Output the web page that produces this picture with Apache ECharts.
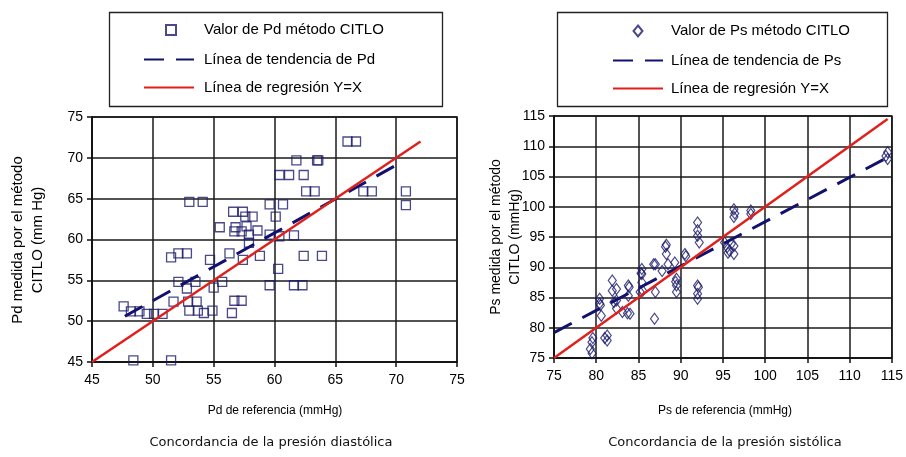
<!DOCTYPE html>
<html>
<head>
<meta charset="utf-8">
<script src="https://cdn.jsdelivr.net/npm/echarts@6/dist/echarts.min.js"></script>
<style>
html,body{margin:0;padding:0;background:#fff;}
#c{width:906px;height:457px;}
</style>
</head>
<body>
<div id="c"></div>
<script>
// ---- Left chart: diastolic pressure ----
const pdTicks = [45, 50, 55, 60, 65, 70, 75];
const pdRef = [66.0,66.7,61.8,63.5,63.6,60.4,61.2,62.4,62.6,63.3,67.3,68.0,70.8,70.8,53.0,54.1,59.6,60.7,56.6,57.4,58.2,57.6,60.1,55.5,56.8,57.7,56.7,57.3,58.6,57.9,59.6,60.4,61.6,57.9,56.3,57.4,58.8,62.4,63.9,51.5,52.1,52.8,54.7,60.3,52.1,53.5,55.7,52.8,55.0,59.6,61.6,62.3,51.7,52.9,53.6,56.7,57.3,53.0,53.7,54.2,54.9,56.5,47.6,48.2,48.9,49.5,50.1,50.8,48.4,51.5];
const pdCitlo = [72.0,72.0,69.7,69.7,69.7,67.9,67.9,67.9,65.9,65.9,65.9,65.9,65.9,64.2,64.6,64.6,64.3,64.3,63.4,63.4,62.8,62.8,62.8,61.5,61.5,61.6,61.0,61.0,61.1,60.6,60.6,60.4,60.5,59.6,58.3,57.5,58.0,58.0,58.0,57.8,58.3,58.3,57.5,56.4,54.8,54.8,54.8,54.0,54.1,54.4,54.4,54.4,52.4,52.4,52.4,52.5,52.5,51.3,51.3,51.0,51.3,51.0,51.8,51.2,51.2,50.9,50.9,50.9,45.2,45.2];
const pdTrendX = [47.7, 70.0];
const pdTrendY = [50.6, 69.1];
const pdLineX = [45, 72];
const pdLineY = [45, 72];

// ---- Right chart: systolic pressure ----
const psTicks = [75, 80, 85, 90, 95, 100, 105, 110, 115];
const psRef = [79.5,79.3,79.5,79.6,81.3,81.3,81.0,80.4,80.4,80.5,80.6,81.9,81.9,82.1,82.4,82.4,82.4,83.1,83.7,84.0,83.8,83.8,83.9,85.4,85.4,85.4,85.5,85.3,85.2,87.0,86.9,86.8,87.0,87.8,88.5,88.3,88.3,88.2,89.3,89.4,89.5,89.5,89.5,90.5,90.6,92.0,92.0,92.0,92.2,92.0,92.0,92.0,92.1,95.2,95.5,95.8,96.3,96.3,95.6,96.0,96.3,96.3,96.4,98.3,98.3,114.5,114.5,114.3];
const psCitlo = [77.6,76.5,75.8,78.3,78.7,77.9,78.3,84.8,84.0,83.7,82.0,87.8,86.1,84.2,86.4,84.5,83.2,82.6,82.4,82.3,87.0,85.3,86.7,89.7,88.9,87.5,86.1,89.0,85.9,85.9,81.5,90.5,90.5,89.4,90.5,93.7,92.2,93.4,90.8,87.6,88.1,87.0,85.9,92.2,91.8,97.4,96.1,95.2,94.1,87.0,85.6,84.8,86.7,94.1,93.3,92.7,93.5,92.2,92.4,93.9,99.6,98.3,98.9,99.4,98.8,109.0,107.9,108.4];
const psTrendX = [75, 114.7];
const psTrendY = [79.2, 108.3];
const psLineX = [75, 114.5];
const psLineY = [75, 114.5];

const legendLeft = ['Valor de Pd método CITLO', 'Línea de tendencia de Pd', 'Línea de regresión Y=X'];
const legendRight = ['Valor de Ps método CITLO', 'Línea de tendencia de Ps', 'Línea de regresión Y=X'];

const NAVY = '#1b1b6b';
const TREND = '#12126e';
const RED = '#e0201c';
const FONT = '"Liberation Sans", Arial, sans-serif';

function pairs(xs, ys){ return xs.map((x,i)=>[x, ys[i]]); }

function valueAxis(ticks, gridIndex, isX){
  return {
    type: 'value', gridIndex: gridIndex,
    min: ticks[0], max: ticks[ticks.length-1], interval: ticks[1]-ticks[0],
    axisLine: {show: true, lineStyle: {color: '#111', width: 1.5}},
    axisTick: {show: true, length: 5, lineStyle: {color: '#111', width: 1.5}},
    axisLabel: {color: '#000', fontSize: 14, fontFamily: FONT, margin: isX ? 11 : 9},
    splitLine: {show: true, lineStyle: {color: '#1a1a1a', width: 1.5}}
  };
}

const chart = echarts.init(document.getElementById('c'), null, {renderer: 'canvas'});
const legendText = {fontSize: 15, fontFamily: FONT, color: '#000'};
const noSymbol = {color: 'rgba(0,0,0,0)', borderWidth: 0, opacity: 0};
chart.setOption({
  animation: false,
  backgroundColor: '#fff',
  grid: [
    {left: 92, top: 117, width: 365, height: 245, show: true, borderColor: '#111', borderWidth: 1.5},
    {left: 554, top: 116, width: 342, height: 242, show: true, borderColor: '#111', borderWidth: 1.5}
  ],
  xAxis: [valueAxis(pdTicks, 0, true), valueAxis(psTicks, 1, true)],
  yAxis: [valueAxis(pdTicks, 0, false), valueAxis(psTicks, 1, false)],
  legend: [
    {orient: 'vertical', padding: 0, left: 165, top: 22.5, itemWidth: 10, itemHeight: 10, selectedMode: false,
     textStyle: Object.assign({padding: [0,0,0,23]}, legendText), data: [legendLeft[0]]},
    {orient: 'vertical', padding: 0, left: 143, top: 52, itemWidth: 50, itemHeight: 10, itemGap: 13, selectedMode: false,
     textStyle: Object.assign({padding: [0,0,0,5]}, legendText),
     data: [{name: legendLeft[1], itemStyle: noSymbol}, {name: legendLeft[2], itemStyle: noSymbol}]},
    {orient: 'vertical', padding: 0, left: 632.5, top: 23.5, itemWidth: 9, itemHeight: 11, selectedMode: false,
     textStyle: Object.assign({padding: [0,0,0,23.5]}, legendText), data: [legendRight[0]]},
    {orient: 'vertical', padding: 0, left: 612, top: 53, itemWidth: 50, itemHeight: 10, itemGap: 13, selectedMode: false,
     textStyle: Object.assign({padding: [0,0,0,3]}, legendText),
     data: [{name: legendRight[1], itemStyle: noSymbol}, {name: legendRight[2], itemStyle: noSymbol}]}
  ],
  graphic: [
    {type: 'rect', shape: {x: 109.5, y: 12.5, width: 333, height: 94}, style: {fill: 'none', stroke: '#222', lineWidth: 1.3}, silent: true, z: -1},
    {type: 'rect', shape: {x: 557.5, y: 12.5, width: 330, height: 94}, style: {fill: 'none', stroke: '#222', lineWidth: 1.3}, silent: true, z: -1},
    {type: 'text', x: 28, y: 240, rotation: Math.PI/2, style: {text: 'Pd medida por el método\nCITLO (mm Hg)', align: 'center', verticalAlign: 'middle', fontSize: 15, lineHeight: 20, fontFamily: FONT, fill: '#000'}},
    {type: 'text', x: 506, y: 237, rotation: Math.PI/2, style: {text: 'Ps medida por el método\nCITLO (mmHg)', align: 'center', verticalAlign: 'middle', fontSize: 14, lineHeight: 19, fontFamily: FONT, fill: '#000'}},
    {type: 'text', x: 275, y: 411, style: {text: 'Pd de referencia (mmHg)', align: 'center', verticalAlign: 'middle', fontSize: 12, fontFamily: FONT, fill: '#000'}},
    {type: 'text', x: 725, y: 411, style: {text: 'Ps de referencia (mmHg)', align: 'center', verticalAlign: 'middle', fontSize: 12, fontFamily: FONT, fill: '#000'}},
    {type: 'text', x: 271, y: 443, style: {text: 'Concordancia de la presión diastólica', align: 'center', verticalAlign: 'middle', fontSize: 13, fontFamily: '"DejaVu Sans", sans-serif', fill: '#111'}},
    {type: 'text', x: 725, y: 443, style: {text: 'Concordancia de la presión sistólica', align: 'center', verticalAlign: 'middle', fontSize: 13, fontFamily: '"DejaVu Sans", sans-serif', fill: '#111'}}
  ],
  series: [
    {name: legendLeft[0], type: 'scatter', xAxisIndex: 0, yAxisIndex: 0, symbol: 'rect', symbolSize: 9,
     itemStyle: {color: 'rgba(0,0,0,0)', borderColor: NAVY, borderWidth: 1.3}, data: pairs(pdRef, pdCitlo), z: 3},
    {name: legendLeft[1], type: 'line', xAxisIndex: 0, yAxisIndex: 0, symbol: 'none',
     lineStyle: {color: TREND, width: 3, type: [20, 12]}, itemStyle: {color: TREND}, data: pairs(pdTrendX, pdTrendY), z: 4},
    {name: legendLeft[2], type: 'line', xAxisIndex: 0, yAxisIndex: 0, symbol: 'none',
     lineStyle: {color: RED, width: 2.5}, itemStyle: {color: RED}, data: pairs(pdLineX, pdLineY), z: 5},
    {name: legendRight[0], type: 'scatter', xAxisIndex: 1, yAxisIndex: 1, symbol: 'diamond', symbolSize: [8, 11],
     itemStyle: {color: 'rgba(0,0,0,0)', borderColor: NAVY, borderWidth: 1.2}, data: pairs(psRef, psCitlo), z: 3},
    {name: legendRight[1], type: 'line', xAxisIndex: 1, yAxisIndex: 1, symbol: 'none',
     lineStyle: {color: TREND, width: 3, type: [20, 12]}, itemStyle: {color: TREND}, data: pairs(psTrendX, psTrendY), z: 4},
    {name: 'Línea de regresión Y=X ', type: 'line', xAxisIndex: 1, yAxisIndex: 1, symbol: 'none',
     lineStyle: {color: RED, width: 2.5}, itemStyle: {color: RED}, data: pairs(psLineX, psLineY), z: 5}
  ]
});
</script>
</body>
</html>
